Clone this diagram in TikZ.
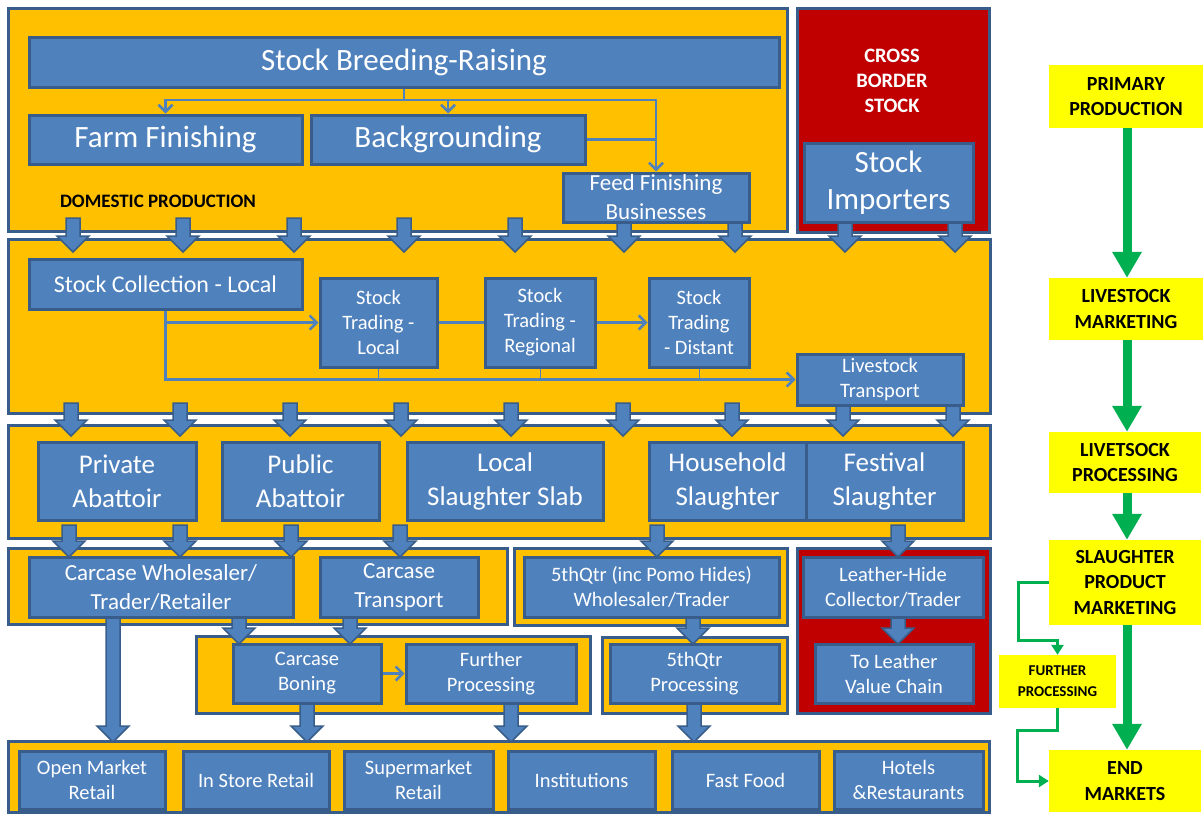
\documentclass[tikz,border=0pt]{standalone}
\usepackage{fontspec}
\setmainfont{Carlito}
\usetikzlibrary{arrows.meta}

\definecolor{panelyellow}{HTML}{FFC000}
\definecolor{panelred}{HTML}{C00000}
\definecolor{boxblue}{HTML}{4F81BD}
\definecolor{edgeblue}{HTML}{385D8A}
\definecolor{stageyellow}{HTML}{FFFF00}
\definecolor{flowgreen}{HTML}{00B050}

\tikzset{
  panel/.style={fill=panelyellow, draw=edgeblue, line width=3pt},
  redpanel/.style={panel, fill=panelred},
  box/.style={fill=boxblue, draw=edgeblue, line width=3pt, text=white,
    align=center, inner sep=0pt},
  huge/.style={font=\fontsize{31}{37}\selectfont},
  big/.style={font=\fontsize{27}{34}\selectfont},
  mid/.style={font=\fontsize{23}{29}\selectfont},
  small/.style={font=\fontsize{20.5}{25}\selectfont},
  stage/.style={fill=stageyellow, align=center, inner sep=0pt,
    font=\fontsize{20}{25.5}\selectfont\bfseries},
  link/.style={draw=boxblue, line width=2.5pt},
  linkto/.style={link, -{Straight Barb[length=7pt,width=14pt]}},
  thinlink/.style={draw=boxblue, line width=1pt},
  barrow/.style={fill=boxblue, draw=edgeblue, line width=1.5pt},
  bigflow/.style={draw=flowgreen, line width=9pt,
    -{Triangle[length=26pt,width=28pt]}},
  thinflow/.style={draw=flowgreen, line width=3pt,
    -{Triangle[length=10pt,width=12pt]}},
}

% block arrow pointing down: x, top, tip
\newcommand\blockdown[3]{%
  \draw[barrow] (#1-7,#2) -- (#1+7,#2) -- (#1+7,#3-16) -- (#1+16,#3-16)
    -- (#1,#3) -- (#1-16,#3-16) -- (#1-7,#3-16) -- cycle;}

\begin{document}
\begin{tikzpicture}[x=1pt,y=-1pt]
\useasboundingbox (0,0) rectangle (1204,814);

% panels
\draw[panel] (8,8) rectangle (787,231);
\draw[redpanel] (797,8) rectangle (989,232);
\draw[panel] (8,239) rectangle (990,413);
\draw[panel] (8,425) rectangle (990,538);
\draw[panel] (8,548) rectangle (507,624);
\draw[panel] (514,548) rectangle (787,625);
\draw[redpanel] (797,548) rectangle (990,713);
\draw[panel] (196,636) rectangle (590,713);
\draw[panel] (602,637) rectangle (787,713);
\draw[panel] (8,741) rectangle (989,812);

% block arrows between the rows
\foreach \x in {73,183,294,404,515,624,735,845,955}
  \blockdown{\x}{218}{252};
\foreach \x in {71,180,290,401,511,623,732,843,953}
  \blockdown{\x}{403}{436};
\foreach \x in {69,180,291,400,657,898}
  \blockdown{\x}{525}{557};
\foreach \x in {239,350,693,898}
  \blockdown{\x}{614}{644};
\blockdown{113}{614}{742}
\foreach \x in {307,511,694}
  \blockdown{\x}{700}{742};

% primary production
\node[box, huge, minimum width=750, minimum height=50] (sbr) at (404,62) {Stock Breeding-Raising};
\node[box, huge, minimum width=273, minimum height=49] (ff) at (165.5,139.5) {Farm Finishing};
\node[box, huge, minimum width=274, minimum height=49] (bg) at (448,139.5) {Backgrounding};
\node[box, mid, minimum width=186, minimum height=49] (feed) at (656,197.5) {Feed Finishing\\Businesses};
\node[font=\fontsize{19}{22}\selectfont\bfseries] (dom) at (158,201) {DOMESTIC PRODUCTION};
\node[text=white, align=center, font=\fontsize{20.5}{25}\selectfont\bfseries] (cbs) at (892,81) {CROSS\\BORDER\\STOCK};
\node[box, huge, minimum width=169, minimum height=79] (imp) at (888.5,182.5) {Stock\\Importers};

\coordinate (split) at (404,100);
\draw[link] (sbr.south) -- (split);
\draw[linkto] (split) -| (ff.north);
\draw[linkto] (split -| bg.north) -- (bg.north);
\draw[linkto] (split) -| (feed.north);
\draw[link] (bg.east) -- (bg.east -| feed.north);

% livestock marketing
\node[box, font=\fontsize{24}{30}\selectfont, minimum width=273, minimum height=50] (sc) at (165.5,284) {Stock Collection - Local};
\node[box, small, minimum width=117, minimum height=89] (tl) at (378.5,322.5) {Stock\\Trading -\\Local};
\node[box, small, minimum width=110, minimum height=89] (tr) at (540,322.5) {Stock\\Trading -\\Regional};
\node[box, small, minimum width=100, minimum height=89] (td) at (699,322.5) {Stock\\Trading\\- Distant};
\node[box, small, minimum width=166, minimum height=51] (lt) at (880,379.5) {Livestock\\Transport};

\draw[thinlink] (tl.south) -- (tl.south |- lt.west);
\draw[thinlink] (tr.south) -- (tr.south |- lt.west);
\draw[thinlink] (td.south) -- (td.south |- lt.west);
\draw[linkto] (sc.south) |- (lt.west);
\draw[linkto] (sc.south |- tl.west) -- (tl.west);
\draw[link] (tl.east) -- (tr.west);
\draw[linkto] (tr.east) -- (td.west);

% livestock processing
\node[box, big, minimum width=158, minimum height=78] (pa) at (117,481) {Private\\Abattoir};
\node[box, big, minimum width=157, minimum height=78] (pu) at (300.5,481) {Public\\Abattoir};
\node[box, big, minimum width=196, minimum height=78] (ls) at (505,481) {Local\\Slaughter Slab};
\node[box, big, minimum width=157, minimum height=78] (hs) at (727.5,481) {Household\\Slaughter};
\node[box, big, minimum width=157, minimum height=78] (fs) at (884.5,481) {Festival\\Slaughter};

% slaughter product marketing
\node[box, mid, minimum width=264, minimum height=60] (cw) at (161,587) {Carcase Wholesaler/\\Trader/Retailer};
\node[box, mid, minimum width=158, minimum height=60] (ct) at (399,587) {Carcase\\Transport};
\node[box, small, minimum width=255, minimum height=60] (fq) at (651.5,587) {5thQtr (inc Pomo Hides)\\Wholesaler/Trader};
\node[box, small, minimum width=180, minimum height=60] (lh) at (893,587) {Leather-Hide\\Collector/Trader};
\node[box, small, minimum width=158, minimum height=59] (tlv) at (894,673.5) {To Leather\\Value Chain};
\node[box, small, minimum width=148, minimum height=59] (cb) at (307,673.5) {Carcase\\Boning};
\node[box, small, minimum width=170, minimum height=59] (fp) at (491,673.5) {Further\\Processing};
\node[box, small, minimum width=169, minimum height=59] (fqp) at (694.5,673.5) {5thQtr\\Processing};
\draw[linkto] (cb.east) -- (fp.west);

% end markets
\node[box, small, minimum width=146, minimum height=58] (omr) at (92,780) {Open Market\\Retail};
\node[box, small, minimum width=146, minimum height=58] (isr) at (256,780) {In Store Retail};
\node[box, small, minimum width=149, minimum height=58] (smr) at (418.5,780) {Supermarket\\Retail};
\node[box, small, minimum width=147, minimum height=58] (inst) at (581.5,780) {Institutions};
\node[box, small, minimum width=147, minimum height=58] (ffd) at (745.5,780) {Fast Food};
\node[box, small, minimum width=149, minimum height=58] (hr) at (908.5,780) {Hotels\\\&Restaurants};

% value chain stages
\node[stage, minimum width=154, minimum height=63] (pp) at (1126,96.5) {PRIMARY\\PRODUCTION};
\node[stage, minimum width=154, minimum height=62] (lm) at (1126,309) {LIVESTOCK\\MARKETING};
\node[stage, minimum width=152, minimum height=61] (lp) at (1125,462.5) {LIVETSOCK\\PROCESSING};
\node[stage, minimum width=152, minimum height=85] (spm) at (1125,582.5) {SLAUGHTER\\PRODUCT\\MARKETING};
\node[stage, font=\fontsize{15}{21}\selectfont\bfseries, minimum width=117, minimum height=53] (fproc) at (1057.5,681.5) {FURTHER\\PROCESSING};
\node[stage, minimum width=152, minimum height=62] (em) at (1125,781) {END\\MARKETS};

\draw[bigflow] (pp.south -| 1127,0) -- (lm.north -| 1127,0);
\draw[bigflow] (lm.south -| 1127,0) -- (lp.north -| 1127,0);
\draw[bigflow] (lp.south -| 1127,0) -- (spm.north -| 1127,0);
\draw[bigflow] (spm.south -| 1127,0) -- (em.north -| 1127,0);
\draw[thinflow] (spm.west) -- ++(-30,0) -- ++(0,58) -| (fproc.north);
\draw[thinflow] (fproc.south) -- ++(0,22) -| ([xshift=-31pt]em.west) -- (em.west);
\end{tikzpicture}
\end{document}
